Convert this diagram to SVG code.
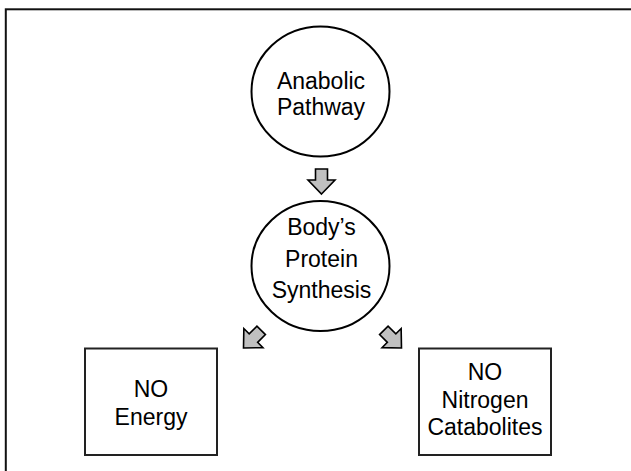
<svg xmlns="http://www.w3.org/2000/svg" width="631" height="471" viewBox="0 0 631 471">
  <defs>
    <style>
      .frame { fill: none; stroke: #111; stroke-width: 2; }
      .node { fill: #fff; stroke: #000; stroke-width: 2; }
      .box { fill: #fff; stroke: #222; stroke-width: 2; }
      .lbl { font-family: "Liberation Sans", Arial, sans-serif; font-size: 23px; fill: #000; text-anchor: middle; }
      .arrow { fill: #c0c0c0; stroke: #000; stroke-width: 1.6; stroke-linejoin: miter; }
    </style>
    <path id="blk" d="M0,0 L13.5,-14 L6,-14 L6,-25 L-6,-25 L-6,-14 L-13.5,-14 Z"/>
  </defs>
  <rect width="631" height="471" fill="#fff"/>
  <rect class="frame" x="5.8" y="9.3" width="640" height="480"/>

  <g id="anabolic">
    <ellipse class="node" cx="320.5" cy="91.5" rx="69" ry="65"/>
    <text class="lbl" x="321" y="89">Anabolic</text>
    <text class="lbl" x="321" y="115">Pathway</text>
  </g>

  <g id="synthesis">
    <ellipse class="node" cx="320.5" cy="266" rx="69" ry="65"/>
    <text class="lbl" x="321.5" y="235">Body’s</text>
    <text class="lbl" x="321.5" y="266.5">Protein</text>
    <text class="lbl" x="321.5" y="297.5">Synthesis</text>
  </g>

  <g id="energy">
    <rect class="box" x="85" y="348.5" width="132" height="106.5"/>
    <text class="lbl" x="151" y="397">NO</text>
    <text class="lbl" x="151" y="425">Energy</text>
  </g>

  <g id="nitrogen">
    <rect class="box" x="419" y="348.5" width="132" height="106.5"/>
    <text class="lbl" x="485" y="380">NO</text>
    <text class="lbl" x="485" y="407.5">Nitrogen</text>
    <text class="lbl" x="485" y="434.5">Catabolites</text>
  </g>

  <g id="connectors">
    <use href="#blk" class="arrow" transform="translate(321.5,194)"/>
    <use href="#blk" class="arrow" transform="translate(243.5,348) rotate(45)"/>
    <use href="#blk" class="arrow" transform="translate(401.5,348) rotate(-45)"/>
  </g>
</svg>
